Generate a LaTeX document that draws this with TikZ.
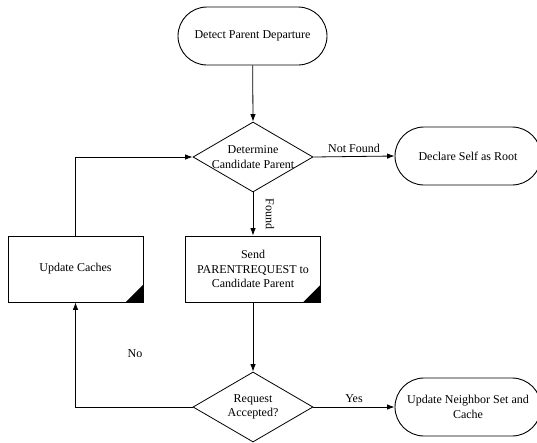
\documentclass[tikz,border=0pt]{standalone}
\usepackage{fontspec}
\setmainfont{Liberation Serif}
\usetikzlibrary{shapes.geometric,arrows.meta}
\begin{document}
\begin{tikzpicture}[x=1pt,y=-1pt,
  font=\fontsize{12}{14.5}\selectfont,
  every node/.style={inner sep=0pt},
  terminal/.style={draw, line width=0.9pt, rectangle, rounded corners=29pt,
    minimum width=149pt, minimum height=58pt, align=center},
  process/.style={draw, line width=0.8pt, rectangle,
    minimum width=135pt, minimum height=66pt, align=center},
  decision/.style={draw, line width=0.8pt, diamond,
    minimum width=120pt, minimum height=70pt},
  flow/.style={line width=0.8pt, -{Latex[length=7.5pt,width=5.5pt]}},
  corner/.style={fill=black}
]
\useasboundingbox (0,0) rectangle (537,442);

% start
\node[terminal] (detect) at (252.5,36) {Detect Parent Departure};

% candidate search
\node[decision] (cand) at (253,157) {};
\node[align=center] (candtxt) at (cand.center) {Determine\\Candidate Parent};

% root case (its right end runs past the page edge)
\node[terminal, minimum width=146pt] (root) at (468,156) {Declare Self as Root};

% request box and cache box
\node[process] (send) at (253,269) {Send\\PARENTREQUEST to\\Candidate Parent};
\node[process] (caches) at (75.5,269) {Update Caches};
\fill[corner] (send.south east) -- ++(-18,0) -- ++(18,-18) -- cycle;
\fill[corner] (caches.south east) -- ++(-18,0) -- ++(18,-18) -- cycle;

% acceptance test
\node[decision] (accept) at (253,407) {};
\node[align=center] (accepttxt) at (accept.center) {Request\\Accepted?};

% success
\node[terminal, minimum width=146pt, align=center] (update) at (468,407) {Update Neighbor Set and\\Cache};

% connectors
\draw[flow] (detect) -- (cand.north);
\draw[flow] (cand.east) -- node[above=3pt] (nf) {Not Found} (root.west);
\draw[flow] (cand.south) -- node[xshift=17pt, rotate=-90] (fd) {Found} (send.north);
\draw[flow] (send.south) -- (accept.north);
\draw[flow] (accept.east) -- node[above=4pt] (yes) {Yes} (update.west);
\draw[flow] (accept.west) -| (caches.south);
\draw[flow] (caches.north) |- (cand.west);
\node (no) at (135,354) {No};
\end{tikzpicture}
\end{document}
